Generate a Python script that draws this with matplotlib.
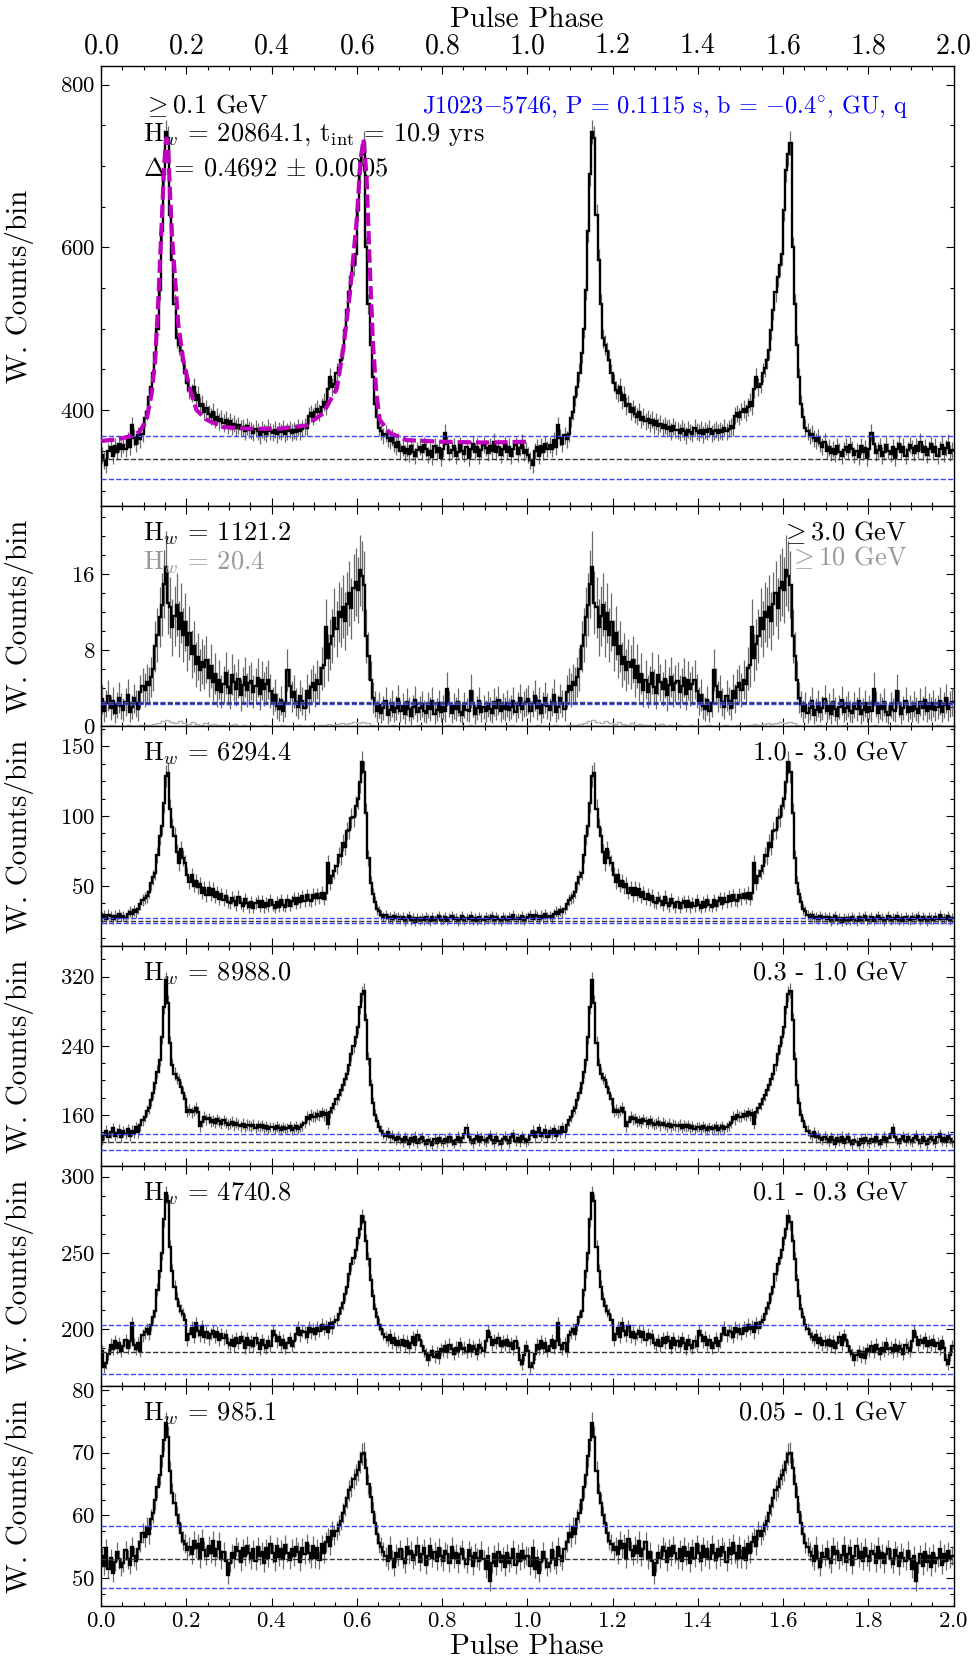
import numpy as np
import matplotlib
matplotlib.use("Agg")
import matplotlib.pyplot as plt
from matplotlib.ticker import MultipleLocator

plt.rcParams['font.family'] = 'serif'
plt.rcParams['font.serif'] = ['cmr10']
plt.rcParams['mathtext.fontset'] = 'cm'
plt.rcParams['axes.formatter.use_mathtext'] = True

# perfiles: 200 bins por rotacion (se dibujan dos rotaciones, fase 0-2)
prof_all = [345, 338, 333, 350, 354, 343, 356, 349, 358, 352,
            357, 352, 363, 355, 381, 366, 358, 369, 364, 371,
            390, 398, 416, 428, 446, 470, 500, 548, 620, 690,
            742, 735, 640, 585, 530, 488, 480, 472, 462, 445,
            433, 425, 421, 428, 412, 418, 405, 408, 398, 402,
            395, 392, 398, 388, 392, 386, 389, 384, 388, 381,
            386, 380, 383, 378, 381, 377, 379, 374, 380, 376,
            375, 372, 377, 374, 369, 376, 373, 371, 378, 374,
            372, 376, 370, 375, 373, 377, 371, 374, 376, 372,
            375, 373, 378, 374, 377, 380, 378, 393, 396, 392,
            398, 401, 397, 404, 410, 405, 426, 440, 428, 432,
            446, 452, 462, 474, 498, 523, 545, 564, 578, 592,
            646, 695, 715, 728, 600, 530, 480, 440, 408, 392,
            378, 374, 368, 371, 365, 362, 366, 359, 355, 361,
            350, 354, 347, 352, 346, 356, 349, 343, 351, 355,
            348, 357, 352, 345, 350, 342, 356, 348, 353, 341,
            352, 372, 358, 347, 351, 356, 344, 349, 357, 350,
            346, 354, 341, 352, 358, 349, 355, 344, 351, 357,
            353, 347, 356, 350, 361, 348, 354, 345, 352, 358,
            349, 355, 343, 352, 357, 346, 353, 360, 347, 351]

prof_3gev = [2.8, 1.6, 2.4, 3.2, 1.9, 2.6, 1.4, 2.2, 3.0, 2.1,
             1.7, 2.5, 3.3, 1.5, 2.0, 2.9, 2.4, 1.8, 3.6, 4.2,
             3.8, 4.6, 4.3, 5.2, 6.0, 8.4, 9.6, 11.5, 12.8, 15.0,
             16.8, 13.0, 12.5, 10.4, 11.6, 12.8, 10.2, 11.9, 9.6, 11.0,
             8.5, 9.8, 7.6, 8.4, 6.5, 7.3, 5.9, 6.8, 6.2, 7.0,
             5.1, 6.3, 4.6, 5.5, 3.8, 4.9, 3.6, 4.4, 5.6, 4.1,
             3.5, 5.4, 4.6, 3.9, 5.0, 3.3, 4.3, 5.2, 3.8, 4.5,
             4.7, 3.6, 4.2, 5.1, 3.4, 4.8, 3.9, 4.4, 4.9, 3.7,
             2.6, 3.3, 2.1, 1.8, 2.7, 1.6, 2.4, 5.9, 4.2, 3.1,
             3.6, 2.5, 2.0, 3.2, 2.6, 1.9, 3.7, 2.9, 4.1, 4.5,
             3.8, 4.9, 4.4, 6.1, 6.4, 10.4, 7.2, 8.6, 9.5, 11.4,
             10.2, 12.0, 11.5, 12.6, 11.1, 12.9, 14.0, 12.4, 14.6, 15.2,
             14.3, 16.4, 15.8, 14.9, 9.5, 7.4, 4.8, 3.0, 2.3, 1.6,
             2.2, 1.4, 1.9, 2.6, 1.2, 1.7, 2.4, 1.5, 1.9, 2.8,
             1.6, 2.1, 1.3, 2.5, 1.8, 1.1, 2.0, 2.7, 1.5, 1.9,
             2.3, 1.6, 1.4, 2.2, 1.8, 2.6, 1.3, 1.7, 2.4, 1.5,
             2.0, 1.6, 3.9, 2.3, 1.4, 2.1, 1.8, 2.5, 1.5, 1.2,
             2.2, 1.7, 1.6, 3.7, 2.4, 1.3, 1.9, 2.6, 1.5, 2.0,
             1.6, 2.3, 1.8, 1.4, 2.5, 1.9, 2.7, 1.6, 2.1, 1.8,
             2.4, 1.7, 2.0, 2.6, 1.5, 2.2, 2.9, 1.8, 2.3, 2.5]

# >= 10 GeV (gris), 100 bins por rotacion
prof_10gev = [0.05, 0.0, 0.1, 0.0, 0.05, 0.0, 0.1, 0.0, 0.05, 0.1,
              0.1, 0.15, 0.2, 0.3, 0.5, 0.6, 0.45, 0.35, 0.5, 0.3,
              0.25, 0.4, 0.2, 0.15, 0.3, 0.1, 0.2, 0.1, 0.15, 0.05,
              0.1, 0.2, 0.05, 0.1, 0.0, 0.1, 0.05, 0.0, 0.1, 0.05,
              0.0, 0.05, 0.1, 0.0, 0.05, 0.0, 0.1, 0.05, 0.0, 0.1,
              0.05, 0.1, 0.15, 0.2, 0.1, 0.25, 0.3, 0.2, 0.35, 0.4,
              0.3, 0.45, 0.3, 0.15, 0.05, 0.0, 0.05, 0.0, 0.1, 0.0,
              0.0, 0.05, 0.0, 0.0, 0.1, 0.0, 0.05, 0.0, 0.0, 0.05,
              0.0, 0.1, 0.0, 0.05, 0.0, 0.0, 0.1, 0.0, 0.05, 0.0,
              0.0, 0.05, 0.0, 0.0, 0.05, 0.0, 0.1, 0.0, 0.0, 0.05]

prof_1_3 = [27.5, 28.8, 26.4, 29.3, 27.9, 26.2, 28.5, 27.1, 29.6, 27.8,
            28.0, 26.9, 29.8, 31.2, 30.0, 32.5, 31.0, 33.4, 36.5, 39.9,
            41.0, 42.3, 45.5, 52.0, 56.0, 59.2, 72.0, 85.6, 92.8, 109.6,
            128.9, 131.0, 104.8, 92.0, 85.6, 74.0, 66.4, 76.0, 70.0, 66.4,
            58.0, 52.4, 57.5, 50.0, 53.5, 49.0, 51.5, 44.8, 48.5, 43.0,
            48.2, 43.5, 47.8, 42.0, 45.2, 40.3, 44.0, 39.5, 42.8, 38.5,
            37.5, 41.5, 38.8, 36.0, 42.2, 37.5, 35.4, 40.2, 37.5, 34.8,
            38.5, 34.2, 37.4, 39.2, 35.0, 38.8, 34.5, 37.5, 35.2, 39.5,
            35.8, 34.2, 38.0, 35.0, 39.8, 36.2, 34.9, 39.4, 35.6, 38.8,
            40.9, 37.2, 41.3, 38.0, 42.5, 39.2, 43.3, 40.0, 38.8, 43.5,
            40.8, 44.0, 41.3, 45.0, 40.5, 44.5, 66.4, 52.0, 56.8, 60.5,
            64.0, 72.2, 71.0, 80.8, 78.0, 89.0, 90.0, 98.6, 99.0, 107.0,
            112.1, 124.1, 138.5, 131.3, 102.4, 70.0, 52.0, 44.0, 38.0, 33.0,
            31.5, 29.0, 27.6, 28.9, 26.5, 27.8, 25.9, 28.4, 26.7, 27.5,
            25.8, 27.2, 24.6, 26.9, 28.1, 25.3, 26.7, 24.2, 27.0, 25.6,
            26.8, 25.1, 27.6, 26.0, 24.8, 27.4, 25.7, 26.9, 28.2, 25.4,
            26.3, 27.7, 25.0, 26.6, 28.4, 25.9, 27.1, 24.7, 26.4, 27.9,
            25.6, 27.0, 26.2, 28.0, 25.3, 26.8, 24.9, 27.3, 26.1, 25.5,
            27.4, 25.8, 26.6, 28.3, 25.1, 27.2, 26.0, 24.6, 27.8, 26.3,
            25.7, 27.5, 26.4, 28.6, 25.9, 27.0, 26.2, 28.1, 25.6, 27.1]

prof_03_1 = [131, 137, 142, 134, 140, 145, 136, 139, 143, 135,
             141, 138, 144, 136, 142, 139, 146, 140, 148, 154,
             158, 165, 168, 177, 185, 197, 210, 224, 250, 285,
             316, 290, 243, 218, 208, 203, 200, 192, 186, 178,
             164, 166, 163, 165, 168, 164, 147, 152, 158, 155,
             156, 152, 154, 151, 155, 153, 150, 154, 151, 149,
             150, 152, 148, 151, 149, 147, 150, 146, 149, 148,
             147, 149, 145, 148, 146, 148, 145, 147, 144, 146,
             146, 144, 147, 145, 143, 146, 144, 145, 147, 143,
             145, 147, 144, 146, 148, 151, 158, 155, 160, 158,
             158, 161, 159, 163, 160, 162, 150, 163, 168, 173,
             178, 183, 189, 195, 202, 208, 218, 230, 240, 250,
             262, 285, 300, 304, 270, 225, 195, 174, 160, 153,
             146, 142, 138, 136, 140, 134, 137, 133, 131, 135,
             132, 129, 134, 131, 127, 133, 130, 135, 128, 132,
             134, 130, 126, 131, 129, 125, 132, 128, 133, 130,
             128, 132, 129, 134, 130, 127, 131, 135, 129, 133,
             138, 145, 134, 131, 128, 132, 136, 130, 134, 131,
             129, 133, 137, 131, 128, 134, 130, 126, 132, 135,
             131, 128, 134, 138, 130, 133, 129, 136, 132, 129]

prof_01_03 = [186, 175, 178, 184, 190, 187, 192, 188, 191, 186,
              189, 193, 188, 192, 204, 190, 187, 191, 186, 196,
              198, 200, 197, 203, 208, 212, 226, 238, 250, 272,
              289, 284, 254, 238, 228, 220, 215, 212, 210, 206,
              193, 197, 201, 195, 204, 199, 196, 202, 195, 198,
              194, 197, 199, 195, 198, 193, 197, 194, 196, 191,
              190, 193, 189, 194, 191, 195, 192, 188, 194, 190,
              192, 189, 194, 191, 187, 193, 190, 188, 192, 189,
              199, 196, 192, 195, 190, 193, 188, 191, 194, 189,
              192, 197, 201, 196, 199, 198, 195, 201, 198, 200,
              197, 201, 199, 203, 200, 202, 198, 204, 201, 205,
              206, 210, 214, 217, 223, 228, 236, 243, 247, 252,
              260, 266, 274, 270, 258, 246, 232, 222, 213, 208,
              203, 200, 197, 195, 193, 196, 191, 194, 190, 192,
              190, 193, 189, 192, 188, 191, 195, 190, 196, 193,
              189, 186, 184, 180, 183, 186, 182, 185, 181, 187,
              186, 189, 185, 190, 187, 184, 188, 186, 191, 187,
              188, 185, 190, 186, 189, 187, 184, 190, 188, 186,
              192, 199, 195, 190, 193, 191, 194, 189, 192, 190,
              193, 189, 191, 187, 192, 188, 180, 177, 183, 189]

prof_005_01 = [53.5, 52.0, 54.8, 51.5, 53.2, 50.8, 52.6, 54.2, 53.0, 51.8,
               52.5, 54.5, 53.0, 52.2, 55.0, 53.5, 52.8, 54.6, 55.8, 57.2,
               56.5, 58.2, 57.0, 59.5, 60.4, 62.5, 64.5, 66.5, 69.5, 72.0,
               74.7, 72.5, 67.0, 63.5, 62.0, 60.0, 58.8, 57.2, 56.0, 55.5,
               54.5, 55.0, 53.8, 56.0, 54.8, 55.5, 53.2, 56.3, 54.5, 53.6,
               55.2, 54.0, 56.0, 53.5, 54.6, 55.8, 53.0, 54.2, 52.8, 50.5,
               52.5, 54.0, 53.2, 55.0, 54.3, 52.6, 54.8, 53.5, 55.2, 54.0,
               53.0, 54.6, 52.8, 55.0, 53.6, 54.2, 52.5, 54.8, 53.3, 55.4,
               54.0, 52.7, 55.1, 53.4, 54.6, 53.0, 55.3, 54.1, 52.9, 54.7,
               53.5, 55.0, 54.2, 52.6, 54.9, 53.8, 55.6, 54.0, 53.1, 55.2,
               53.2, 54.8, 52.9, 55.4, 54.0, 55.8, 56.5, 55.2, 57.6, 56.8,
               57.6, 58.5, 59.2, 60.4, 61.5, 62.8, 64.0, 64.6, 65.8, 66.5,
               67.2, 68.5, 69.8, 70.0, 67.5, 65.0, 63.0, 60.5, 58.8, 57.0,
               55.6, 55.0, 54.2, 53.5, 52.8, 55.2, 53.0, 51.8, 54.0, 53.4,
               54.6, 53.1, 52.4, 55.0, 53.8, 54.4, 52.9, 53.7, 55.2, 52.6,
               53.9, 54.8, 52.2, 53.6, 55.1, 53.3, 54.2, 52.8, 54.9, 53.5,
               52.7, 54.3, 53.9, 52.5, 55.0, 53.2, 54.0, 52.4, 53.8, 54.6,
               53.1, 52.3, 54.5, 53.6, 52.0, 54.1, 53.3, 52.8, 54.4, 53.0,
               51.5, 53.6, 49.5, 52.4, 53.8, 52.0, 54.2, 52.6, 53.5, 51.8,
               54.0, 52.5, 53.3, 54.6, 52.2, 53.9, 52.8, 54.3, 53.1, 53.6]

# ajuste (linea magenta) del primer panel
fit_phase = [0.00, 0.04, 0.07, 0.09, 0.107, 0.119, 0.127, 0.134, 0.142, 0.148,
             0.153, 0.157, 0.162, 0.167, 0.173, 0.181, 0.193, 0.209, 0.224, 0.248,
             0.287, 0.35, 0.42, 0.482, 0.521, 0.553, 0.568, 0.584, 0.60, 0.609,
             0.616, 0.623, 0.63, 0.638, 0.646, 0.654, 0.677, 0.717, 0.80, 0.90, 1.00]
fit_vals = [362, 364, 368, 373, 388, 421, 461, 530, 625, 700,
            734, 730, 667, 610, 568, 507, 461, 425, 400, 388,
            379, 377, 377, 381, 396, 426, 474, 544, 634, 708,
            733, 687, 585, 482, 421, 388, 372, 363, 361, 360, 361]

# niveles de fondo: (azul arriba, negro, azul abajo)
bg_lines = [[368, 339.7, 315], [2.55, 2.45, 2.35], [26.7, 25.0, 23.5],
            [138, 128.5, 119.3], [202.8, 185, 170.6], [58.3, 53.0, 48.5]]
err_k = [0.29, 0.85, 0.48, 0.26, 0.084, 0.042]
ylims = [(282, 823), (0, 23.2), (6.7, 164.6), (101, 355.5), (162.8, 307), (45.6, 80.6)]
y_major = [200, 8, 50, 80, 50, 10]
hw_vals = ["20864.1", "1121.2", "6294.4", "8988.0", "4740.8", "985.1"]
e_bands = [r"$\geq$0.1 GeV", r"$\geq$3.0 GeV", "1.0 - 3.0 GeV", "0.3 - 1.0 GeV",
           "0.1 - 0.3 GeV", "0.05 - 0.1 GeV"]

perfiles = [prof_all, prof_3gev, prof_1_3, prof_03_1, prof_01_03, prof_005_01]

fig = plt.figure(figsize=(9.77, 16.69), dpi=100)
W, H = 977.0, 1669.0
bordes = [66, 506, 726, 946, 1166, 1386, 1606]
x0, x1 = 101, 953.5

edges = np.linspace(0, 2, 401)
centros = 0.5 * (edges[:-1] + edges[1:])

axes = []
for i in range(6):
    top, bot = bordes[i], bordes[i + 1]
    ax = fig.add_axes([x0 / W, 1 - bot / H, (x1 - x0) / W, (bot - top) / H])
    axes.append(ax)
    vals = np.tile(np.array(perfiles[i], dtype=float), 2)
    err = np.sqrt(vals * err_k[i])
    ax.errorbar(centros, vals, yerr=err, fmt='none', ecolor='#6a6a6a', elinewidth=0.9, zorder=2)
    ax.stairs(vals, edges, baseline=None, color='k', lw=1.7, zorder=3)

    b = bg_lines[i]
    ax.axhline(b[0], color='#4040ff', ls='--', lw=1.0, zorder=4)
    ax.axhline(b[1], color='#333333', ls='--', lw=1.0, zorder=4)
    ax.axhline(b[2], color='#4040ff', ls='--', lw=1.0, zorder=4)

    ax.set_xlim(0, 2)
    ax.set_ylim(*ylims[i])
    ax.xaxis.set_major_locator(MultipleLocator(0.2))
    ax.xaxis.set_minor_locator(MultipleLocator(0.05))
    ax.yaxis.set_major_locator(MultipleLocator(y_major[i]))
    ax.yaxis.set_minor_locator(MultipleLocator(y_major[i] / 4))
    ax.tick_params(which='both', direction='in', top=True, right=True, width=0.8)
    ax.tick_params(which='major', length=6)
    ax.tick_params(which='minor', length=3)
    ax.tick_params(axis='y', labelsize=16.5, pad=4)
    ax.tick_params(axis='x', labelbottom=False, labelsize=16.5, pad=4)
    for s in ax.spines.values():
        s.set_linewidth(1.0)

    ax.set_ylabel("W. Counts/bin", fontsize=21)
    ax.yaxis.set_label_coords(-0.079, 0.5)

    if i == 0:
        ax.text(0.049, 0.894, e_bands[0], transform=ax.transAxes, fontsize=19, va='baseline')
        ax.text(0.049, 0.829, r"H$_w$ = " + hw_vals[0] + r", t$_{\rm int}$ = 10.9 yrs",
                transform=ax.transAxes, fontsize=19, va='baseline')
        ax.text(0.049, 0.752, r"$\Delta$ = 0.4692 $\pm$ 0.0005", transform=ax.transAxes,
                fontsize=19, va='baseline')
        ax.text(0.9467, 0.894, r"J1023$-$5746, P = 0.1115 s, b = $-$0.4$^{\circ}$, GU, q",
                transform=ax.transAxes, fontsize=17.5, va='baseline', ha='right', color='blue')
        ax.plot(fit_phase, fit_vals, color='#bf00bf', ls=(0, (3.2, 1.2)), lw=3, zorder=5)
    else:
        ax.text(0.049, 0.845, r"H$_w$ = " + hw_vals[i], transform=ax.transAxes,
                fontsize=19, va='baseline')
        ax.text(0.9458, 0.845, e_bands[i], transform=ax.transAxes, fontsize=19,
                va='baseline', ha='right')

# datos >= 10 GeV en gris (panel 2)
edges10 = np.linspace(0, 2, 201)
v10 = np.tile(np.array(prof_10gev), 2)
axes[1].stairs(v10, edges10, baseline=None, color='#b0b0b0', lw=1.0, zorder=2)
axes[1].text(0.049, 0.713, r"H$_w$ = 20.4", transform=axes[1].transAxes, fontsize=19,
             va='baseline', color='#999999')
axes[1].text(0.9458, 0.733, r"$\geq$10 GeV", transform=axes[1].transAxes, fontsize=19,
             va='baseline', ha='right', color='#999999')

# eje superior
axes[0].tick_params(axis='x', labeltop=True, labelsize=20, pad=5)
axes[0].xaxis.set_label_position('top')
axes[0].set_xlabel("Pulse Phase", fontsize=21, labelpad=4)

# eje inferior
axes[5].tick_params(axis='x', labelbottom=True, labelsize=16.5, pad=4)
axes[5].set_xlabel("Pulse Phase", fontsize=21, labelpad=2)

fig.savefig("out.png", dpi=100)
